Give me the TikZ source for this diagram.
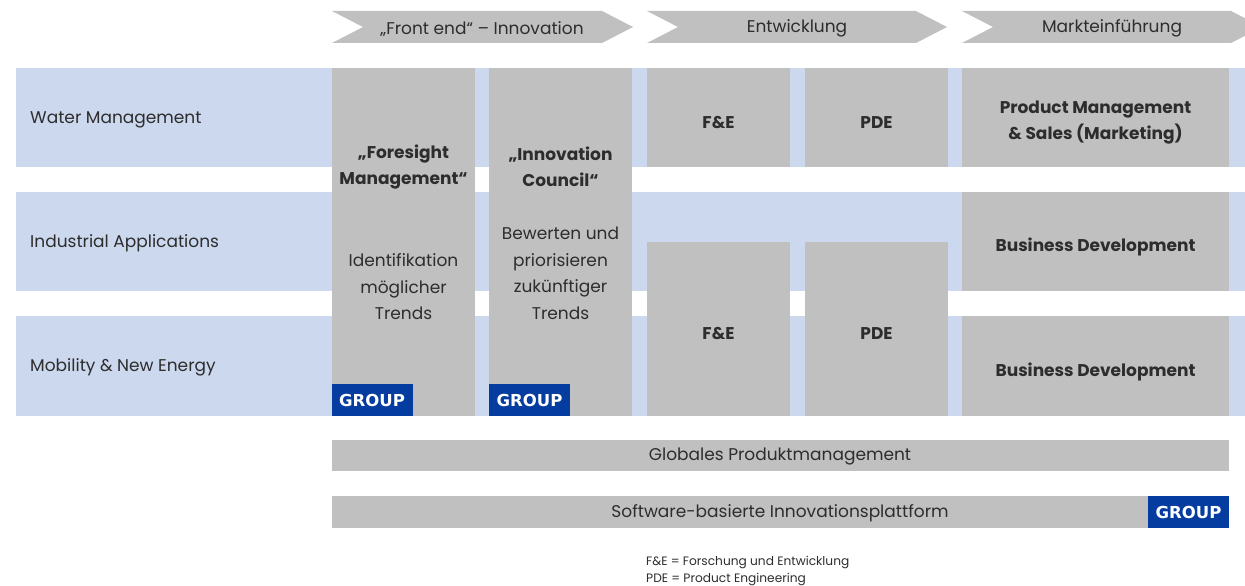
\documentclass[tikz,border=0pt]{standalone}
\usepackage{fontspec}
\setmainfont{Poppins}
\newfontfamily\groupfont{DejaVu Sans}
\definecolor{boxgray}{RGB}{192,192,192}
\definecolor{bandblue}{RGB}{204,216,238}
\definecolor{groupblue}{RGB}{4,60,160}
\definecolor{txt}{RGB}{45,45,45}
\tikzset{
  band/.style={fill=bandblue},
  gbox/.style={fill=boxgray},
  lbl/.style={text=txt, font=\fontsize{17}{26.5}\selectfont, inner sep=0pt, yshift=-1.5pt},
  rowlbl/.style={lbl, anchor=west},
  blbl/.style={lbl, font=\fontsize{17}{26.5}\selectfont\bfseries, align=center},
  plbl/.style={lbl, align=center},
  grouptag/.style={fill=groupblue, text=white, font=\groupfont\fontsize{16.5}{18}\selectfont\bfseries, inner sep=0pt, minimum width=81pt, minimum height=32pt},
  foot/.style={text=txt, font=\fontsize{12.2}{16}\selectfont, inner sep=0pt, anchor=west}
}
\begin{document}
\begin{tikzpicture}[x=1pt,y=-1pt]
\useasboundingbox (0,0) rectangle (1245,586);
\clip (0,0) rectangle (1245,586);
\fill[white] (0,0) rectangle (1245,586);
% phase chevrons
\foreach \a/\b in {332/633,647/947,962/1262}{
  \fill[boxgray] (\a,11) -- ({\b-31},11) -- (\b,27) -- ({\b-31},43) -- (\a,43) -- ({\a+31},27) -- cycle;
}
\node[lbl] (ph1) at (482,27) {„Front end“ – Innovation};
\node[lbl] (ph2) at (797,27) {Entwicklung};
\node[lbl] (ph3) at (1112,27) {Markteinführung};
% blue bands
\fill[band] (16,68) rectangle (1245,167);
\fill[band] (16,192) rectangle (1245,291);
\fill[band] (16,316) rectangle (1245,416);
\node[rowlbl] (r1) at (30,118) {Water Management};
\node[rowlbl] (r2) at (30,242) {Industrial Applications};
\node[rowlbl] (r3) at (30,366) {Mobility \& New Energy};
% front end columns
\fill[gbox] (332,68) rectangle (475,416);
\fill[gbox] (489,68) rectangle (632,416);
\node[blbl] (fm) at (403.5,165.5) {„Foresight\\Management“};
\node[plbl] (fmt) at (403.5,285.5) {Identifikation\\möglicher\\Trends};
\node[blbl] (ic) at (560.5,165.5) {„Innovation\\Council“};
\node[plbl] (ict) at (560.5,272) {Bewerten und\\priorisieren\\zukünftiger\\Trends};
\node[grouptag] (g1) at (372,400) {GROUP};
\node[grouptag] (g2) at (529.5,400) {GROUP};
% development
\fill[gbox] (647,68) rectangle (790,167);
\fill[gbox] (805,68) rectangle (948,167);
\fill[gbox] (647,242) rectangle (790,416);
\fill[gbox] (805,242) rectangle (948,416);
\node[blbl] (fe1) at (718.5,121) {F\&E};
\node[blbl] (pde1) at (876.5,121) {PDE};
\node[blbl] (fe2) at (718.5,332) {F\&E};
\node[blbl] (pde2) at (876.5,332) {PDE};
% market
\fill[gbox] (962,68) rectangle (1229,167);
\fill[gbox] (962,192) rectangle (1229,291);
\fill[gbox] (962,316) rectangle (1229,416);
\node[blbl] (pm) at (1095.5,121) {Product Management\\\& Sales (Marketing)};
\node[blbl] (bd1) at (1095.5,245) {Business Development};
\node[blbl] (bd2) at (1095.5,370) {Business Development};
% bottom bars
\fill[gbox] (332,440) rectangle (1229,471);
\fill[gbox] (332,496) rectangle (1229,528);
\node[lbl] (gp) at (780,455.5) {Globales Produktmanagement};
\node[lbl] (sw) at (780,512) {Software-basierte Innovationsplattform};
\node[grouptag] (g3) at (1188.5,512) {GROUP};
% footnote
\node[foot] (f1) at (646,562) {F\&E = Forschung und Entwicklung};
\node[foot] (f2) at (646,579) {PDE = Product Engineering};
\end{tikzpicture}
\end{document}
